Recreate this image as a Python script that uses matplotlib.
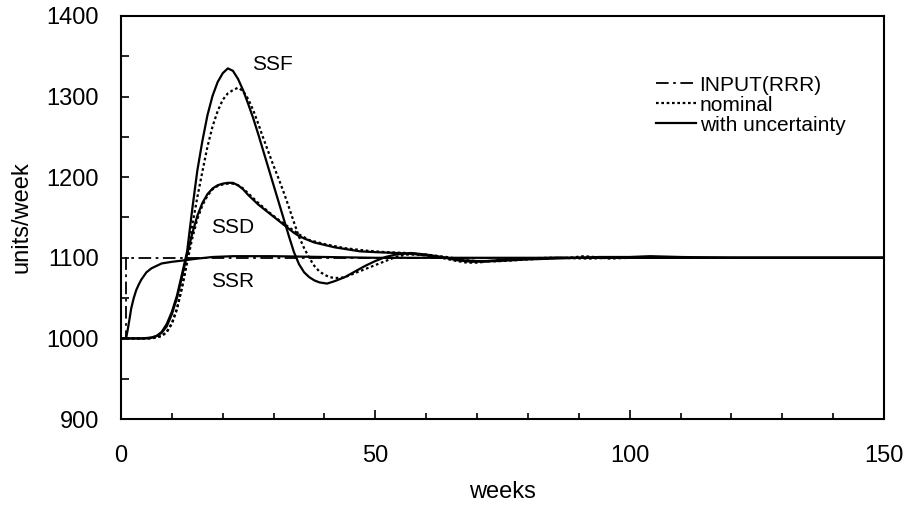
import matplotlib
matplotlib.use("Agg")
import matplotlib.pyplot as plt
from matplotlib.ticker import MultipleLocator, FixedLocator

plt.rcParams['font.family'] = ['Liberation Sans', 'DejaVu Sans']

# ---- data ----
input_t = [0, 1, 1, 150]
input_v = [1000, 1000, 1100, 1100]

ssr_unc_t = [0, 1, 1.3, 1.7, 2, 2.5, 3, 3.5, 4, 5, 6, 7, 8, 10, 12.6, 15, 18, 22, 30, 40, 50, 150]
ssr_unc_v = [1000, 1000, 1010, 1025, 1037, 1050, 1060, 1067, 1073, 1082, 1087, 1090, 1093, 1095, 1097, 1099,
             1101, 1102, 1102, 1101, 1100, 1100]

ssd_unc_t = [0, 5, 6, 7, 8, 9, 10, 11, 12, 13, 14, 15, 16, 17, 18, 19, 20, 21, 22, 23, 24, 25, 26, 27, 28,
             29, 30, 31, 32, 33, 34, 35, 36, 38, 40, 42, 44, 47, 50, 54, 57, 60, 64, 67, 70, 74, 80, 85, 90, 150]
ssd_unc_v = [1000, 1000, 1001, 1003, 1007, 1015, 1030, 1050, 1077, 1104, 1130, 1152, 1168, 1179, 1186, 1190,
             1192, 1193, 1193, 1190, 1185, 1178, 1172, 1166, 1161, 1156, 1151, 1146, 1141, 1136, 1131, 1127,
             1124, 1119, 1116, 1113, 1111, 1108, 1107, 1106, 1105, 1103, 1100, 1097, 1096, 1096, 1098, 1099,
             1100, 1100]

ssd_nom_t = [0, 6, 8, 9, 10, 11, 12, 13, 14, 15, 16, 17, 18, 19, 20, 21, 22, 23, 24, 25, 27, 29, 31, 33,
             35, 37, 40, 44, 48, 52, 56, 60, 64, 68, 71, 75, 80, 86, 92, 96, 150]
ssd_nom_v = [1000, 1000, 1003, 1008, 1019, 1037, 1063, 1094, 1124, 1148, 1165, 1177, 1185, 1189, 1191, 1192,
             1192, 1190, 1186, 1180, 1168, 1157, 1147, 1138, 1129, 1122, 1117, 1112, 1109, 1107, 1106, 1104,
             1101, 1097, 1095, 1096, 1098, 1100, 1099, 1100, 1100]

ssf_unc_t = [0, 4, 6, 7, 8, 9, 10, 11, 12, 13, 14, 15, 16, 17, 18, 19, 20, 21, 22, 23, 24, 25, 26, 27, 28,
             29, 30, 31, 32, 33, 34, 35, 36, 37, 38, 39, 40.5, 42, 44, 46, 48, 50, 52, 54, 57, 60, 63, 66, 69,
             72, 76, 80, 85, 90, 94, 100, 104, 110, 120, 150]
ssf_unc_v = [1000, 1000, 1001, 1003, 1008, 1018, 1033, 1053, 1080, 1108, 1160, 1208, 1245, 1277, 1301, 1318,
             1329, 1335, 1332, 1322, 1308, 1291, 1273, 1253, 1232, 1211, 1190, 1169, 1148, 1127, 1107, 1092,
             1082, 1076, 1072, 1069.5, 1068, 1071, 1076, 1083, 1090, 1096, 1101, 1104, 1106, 1104, 1101, 1097,
             1095, 1096, 1098, 1099, 1100, 1100, 1101, 1101, 1102, 1101, 1100, 1100]

ssf_nom_t = [0, 6, 8, 9, 10, 11, 12, 13, 14, 15, 16, 17, 18, 19, 20, 21, 22, 23, 24, 25, 26, 27, 28, 29, 30,
             31, 32, 33, 34, 35, 36, 37, 38, 39, 40, 41, 42, 43, 44, 46, 48, 50, 52, 54, 56, 58, 60, 63, 66,
             68, 70, 73, 78, 84, 88, 91, 93, 96, 100, 104, 110, 150]
ssf_nom_v = [1000, 1000, 1003, 1008, 1018, 1036, 1064, 1098, 1140, 1175, 1207, 1238, 1263, 1282, 1296, 1304,
             1308, 1311, 1307, 1297, 1283, 1266, 1248, 1231, 1214, 1198, 1181, 1163, 1144, 1126, 1112, 1100,
             1090, 1083, 1079, 1076, 1075, 1075, 1076, 1081, 1086, 1091, 1096, 1101, 1104, 1104, 1103, 1100,
             1096, 1094, 1094, 1096, 1099, 1100, 1100, 1102, 1101, 1099, 1100, 1101, 1100, 1100]

x_major_ticks = [0, 50, 100, 150]
y_major_ticks = [900, 1000, 1100, 1200, 1300, 1400]
legend_labels = ['INPUT(RRR)', 'nominal', 'with uncertainty']

# ---- figure ----
W, H = 909, 505
fig = plt.figure(figsize=(W / 100, H / 100), dpi=100)
ax = fig.add_axes([121 / W, 1 - 419 / H, (884 - 121) / W, (419 - 16) / H])

lw = 1.6
dash_dot = (0, (7, 2.5, 1.5, 2.5))
dotted = (0, (1.2, 1.2))

h_in, = ax.plot(input_t, input_v, color='black', lw=1.3, linestyle=dash_dot)
ax.plot(ssd_nom_t, ssd_nom_v, color='black', lw=lw, linestyle=dotted)
h_nom, = ax.plot(ssf_nom_t, ssf_nom_v, color='black', lw=lw, linestyle=dotted)
ax.plot(ssr_unc_t, ssr_unc_v, color='black', lw=lw)
ax.plot(ssd_unc_t, ssd_unc_v, color='black', lw=lw)
h_unc, = ax.plot(ssf_unc_t, ssf_unc_v, color='black', lw=lw)

ax.text(29.7, 1340, 'SSF', fontsize=15, ha='center', va='center')
ax.text(22.0, 1138, 'SSD', fontsize=15, ha='center', va='center')
ax.text(21.9, 1070, 'SSR', fontsize=15, ha='center', va='center')

ax.set_xlim(0, 150)
ax.set_ylim(900, 1400)
ax.xaxis.set_major_locator(FixedLocator(x_major_ticks))
ax.xaxis.set_minor_locator(MultipleLocator(10))
ax.yaxis.set_major_locator(FixedLocator(y_major_ticks))
ax.yaxis.set_minor_locator(MultipleLocator(50))

ax.tick_params(axis='both', which='both', direction='in', top=False, right=False, width=1.2, labelsize=17)
ax.tick_params(axis='x', which='major', length=6.5, pad=19)
ax.tick_params(axis='x', which='minor', length=4.5)
ax.tick_params(axis='y', which='major', length=6, pad=16)
ax.tick_params(axis='y', which='minor', length=6)

for s in ax.spines.values():
    s.set_linewidth(1.5)

ax.set_xlabel('weeks', fontsize=17, labelpad=10)
ax.set_ylabel('units/week', fontsize=17, labelpad=10)

ax.legend([h_in, h_nom, h_unc], legend_labels, loc='upper left', bbox_to_anchor=(0.69, 0.873),
          frameon=False, fontsize=15, handlelength=1.95, handletextpad=0.15, labelspacing=0.05,
          borderaxespad=0)

fig.savefig('out.png', dpi=100)
